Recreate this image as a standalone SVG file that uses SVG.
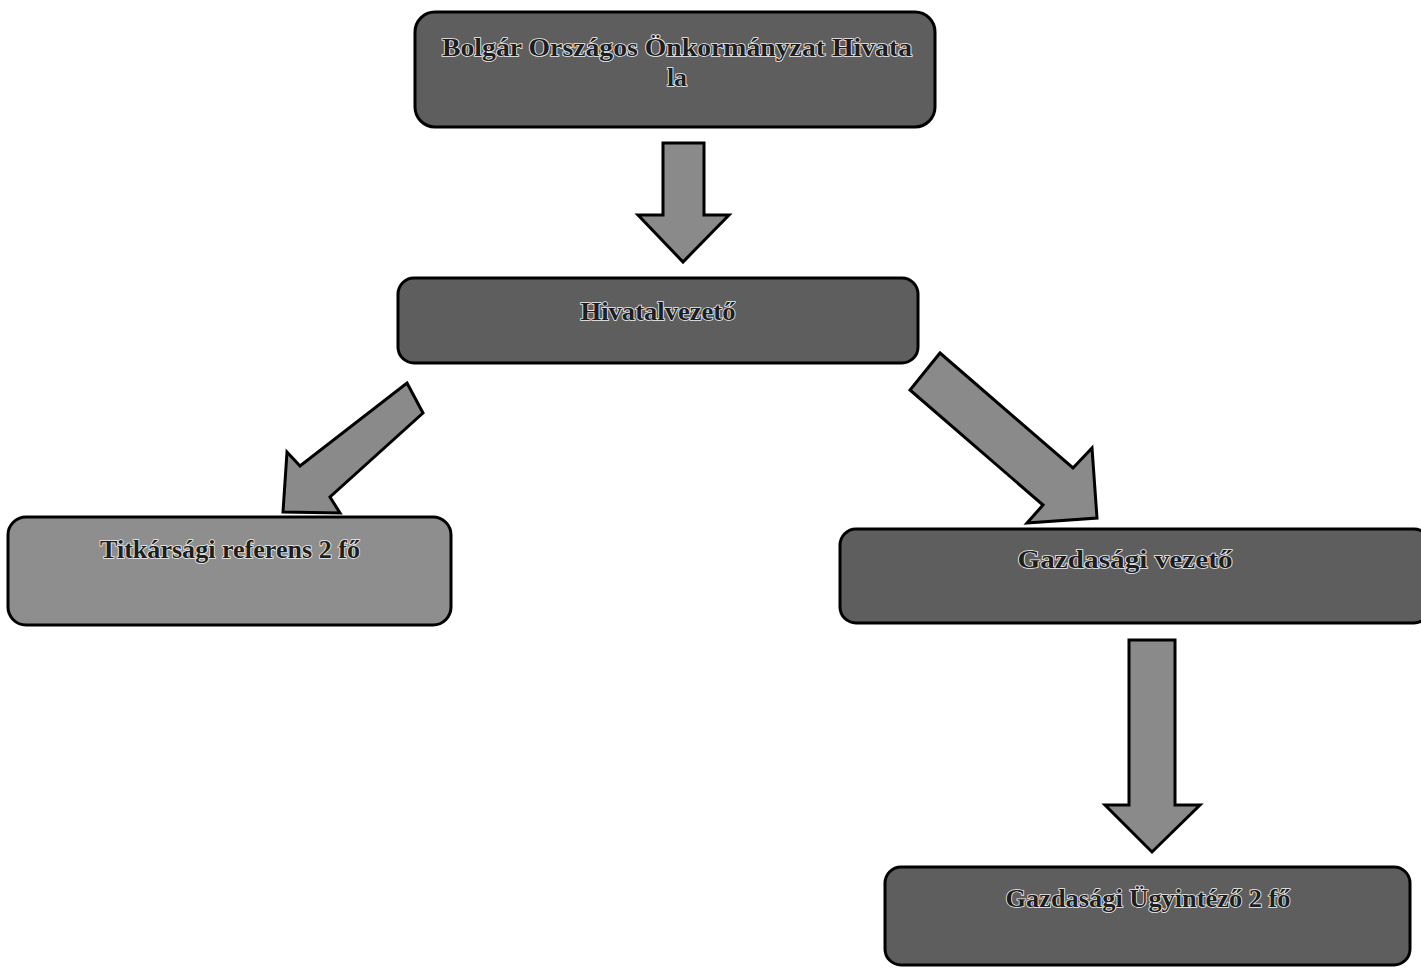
<svg xmlns="http://www.w3.org/2000/svg" width="1421" height="968" viewBox="0 0 1421 968">
<defs>
<style>
.box{stroke:#000;stroke-width:3}
.dark{fill:#5e5e5e}
.light{fill:#8e8e8e}
.arrow{fill:#8a8a8a;stroke:#000;stroke-width:3;stroke-linejoin:miter}
.lbl{font-family:"Liberation Serif","Times New Roman",serif;font-weight:bold;font-size:26px;fill:#1e1e1e;stroke:#f0f0f0;stroke-width:1.6px;paint-order:stroke;text-anchor:middle}
</style>
</defs>
<rect width="1421" height="968" fill="#fff"/>
<g id="connectors">
<polygon class="arrow" points="663,143 704,143 704,215 729,215 683,262 638,215 663,215"/>
<polygon class="arrow" points="407,383 423,413 330,497 340,513 283,512 287,452 300,466"/>
<polygon class="arrow" points="940,353 1073,468 1092,448 1097,518 1027,523 1043,505 910,390"/>
<polygon class="arrow" points="1129,640 1175,640 1175,805 1200,805 1152,852 1105,805 1129,805"/>
</g>
<g id="node-bolgar">
<rect class="box dark" x="415" y="12" width="520" height="115" rx="20"/>
<text class="lbl" x="677" y="56" textLength="470" lengthAdjust="spacingAndGlyphs">Bolgár Országos Önkormányzat Hivata</text>
<text class="lbl" x="677" y="86">la</text>
</g>
<g id="node-hivatalvezeto">
<rect class="box dark" x="398" y="278" width="520" height="85" rx="16"/>
<text class="lbl" x="658" y="320" textLength="155" lengthAdjust="spacingAndGlyphs">Hivatalvezető</text>
</g>
<g id="node-titkarsagi">
<rect class="box light" x="8" y="517" width="443" height="108" rx="18"/>
<text class="lbl" x="230" y="558" textLength="260" lengthAdjust="spacingAndGlyphs">Titkársági referens 2 fő</text>
</g>
<g id="node-gazdasagi-vezeto">
<rect class="box dark" x="840" y="529" width="590" height="94" rx="16"/>
<text class="lbl" x="1125" y="568" textLength="215" lengthAdjust="spacingAndGlyphs">Gazdasági vezető</text>
</g>
<g id="node-gazdasagi-ugyintezo">
<rect class="box dark" x="885" y="867" width="525" height="98" rx="16"/>
<text class="lbl" x="1148" y="907" textLength="285" lengthAdjust="spacingAndGlyphs">Gazdasági Ügyintéző 2 fő</text>
</g>
</svg>
